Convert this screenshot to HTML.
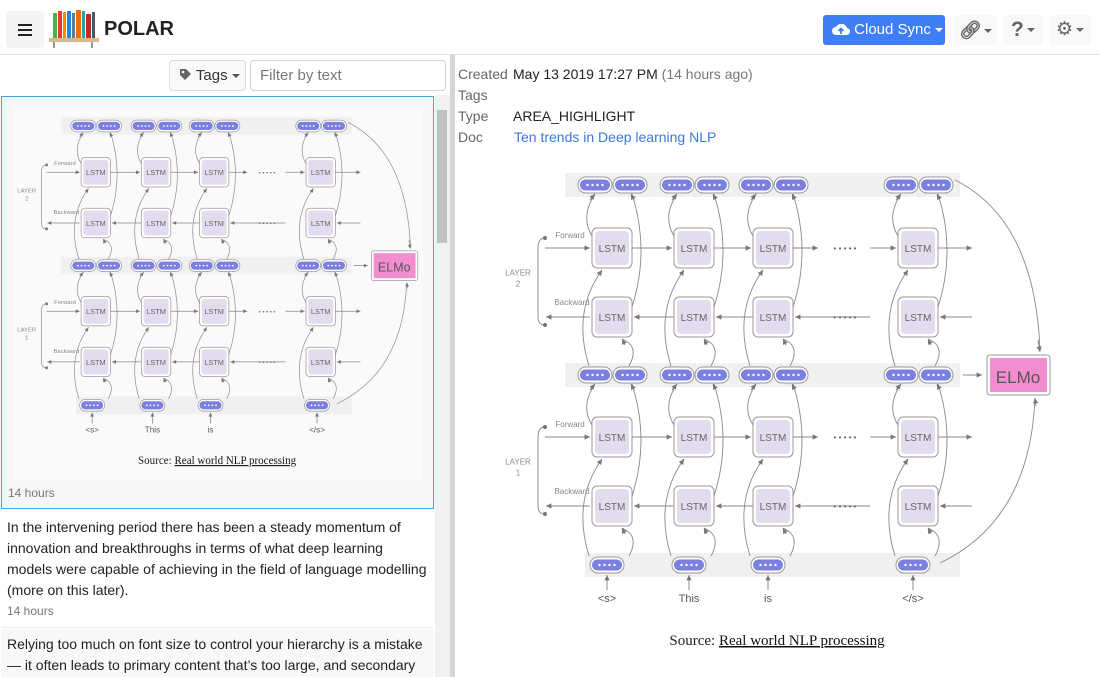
<!DOCTYPE html>
<html><head><meta charset="utf-8">
<style>
*{box-sizing:border-box;margin:0;padding:0}
body{width:1100px;height:677px;overflow:hidden;background:#fff;font-family:"Liberation Sans",sans-serif;color:#212529;position:relative}
.abs{position:absolute}
.hbtn{position:absolute;background:#f3f4f6;border-radius:4px}
.caret{display:inline-block;width:0;height:0;border-left:4px solid transparent;border-right:4px solid transparent;border-top:4px solid currentColor;vertical-align:middle}
.meta{font-size:14px;position:absolute}
</style></head><body>
<div class="abs" style="left:0;top:0;width:1100px;height:55px;border-bottom:1px solid #dee2e6">
  <div class="hbtn" style="left:6px;top:11px;width:38px;height:37px">
    <div class="abs" style="left:12px;top:13px;width:14px;height:2px;background:#222;box-shadow:0 5px 0 #222,0 10px 0 #222"></div>
  </div>
  <svg class="abs" style="left:48px;top:8px" width="52" height="42">
    <rect x="5" y="5" width="4" height="25" fill="#4caf50"/><rect x="10" y="3" width="4" height="27" fill="#e53935"/><rect x="15" y="4" width="3" height="26" fill="#fb8c00"/><rect x="19" y="3" width="4" height="27" fill="#1e88e5"/><rect x="24" y="5" width="3" height="25" fill="#607d8b"/><rect x="28" y="2" width="5" height="28" fill="#ef6c00"/><rect x="34" y="3" width="3" height="27" fill="#26a69a"/><rect x="38" y="6" width="5" height="24" fill="#c62828"/><rect x="44" y="4" width="3" height="26" fill="#455a64"/>
    <rect x="1" y="30" width="50" height="4" fill="#d7b98e"/><rect x="5" y="34" width="2" height="6" fill="#999"/><rect x="43" y="34" width="2" height="6" fill="#999"/>
  </svg>
  <div class="abs" style="left:104px;top:18px;font-size:20px;font-weight:bold;color:#222">POLAR</div>
  <div class="abs" style="left:823px;top:15px;width:122px;height:30px;background:#3e7ef6;border-radius:3px;color:#fff;font-size:15px;line-height:30px;padding-left:9px">
    <svg width="18" height="14" style="vertical-align:-2px"><path d="M4 13 A4 4 0 0 1 4 5 A6 6 0 0 1 15 6 A3.5 3.5 0 0 1 14 13 Z" fill="#fff"/><path d="M9 12 V7 M6.5 9 L9 6.5 L11.5 9" stroke="#3e7ef6" stroke-width="1.8" fill="none"/></svg> Cloud Sync <span class="caret"></span></div>
  <div class="hbtn" style="left:953px;top:15px;width:44px;height:30px;color:#666;font-size:18px;line-height:30px;padding-left:6px;background:#f8f9fa"><span style="font-weight:bold">&#x1F517;&#xFE0E;</span><span class="caret" style="margin-left:2px"></span></div>
  <div class="hbtn" style="left:1003px;top:15px;width:40px;height:30px;color:#666;font-size:21px;font-weight:bold;line-height:30px;padding-left:8px;background:#f8f9fa">?<span class="caret" style="margin-left:3px"></span></div>
  <div class="hbtn" style="left:1049px;top:15px;width:42px;height:30px;color:#666;font-size:19px;line-height:30px;padding-left:7px;background:#f8f9fa">&#x2699;<span class="caret" style="margin-left:3px"></span></div>
</div>

<div class="abs" style="left:169px;top:60px;width:77px;height:31px;border:1px solid #dcdcdc;border-radius:4px;background:#f8f9fa;font-size:15px;line-height:29px;padding-left:9px;color:#333">
  <svg width="13" height="13" style="vertical-align:-1px"><path d="M1 1 H7 L12 6 L6 12 L1 7 Z" fill="#666"/><circle cx="4" cy="4" r="1.3" fill="#f8f9fa"/></svg> Tags <span class="caret" style="color:#555"></span></div>
<div class="abs" style="left:250px;top:60px;width:196px;height:31px;border:1px solid #ced4da;border-radius:4px;font-size:15px;line-height:29px;padding-left:9px;color:#777">Filter by text</div>

<div class="abs" style="left:0;top:95px;width:450px;height:582px;overflow:hidden">
  <div class="abs" style="left:1px;top:1px;width:433px;height:413px;border:1px solid #4aa3df;background:#f6f6f7">
    <div class="abs" style="left:11px;top:10px;width:410px;height:373px;background:#fafafa"></div>
    <div class="abs" style="left:6px;top:389px;font-size:12px;color:#777">14 hours</div>
  </div>
  <div class="abs" style="left:1px;top:415px;width:433px;height:118px;background:#fff;border-bottom:1px solid #eee">
    <div class="abs" style="left:6px;top:7px;width:423px;font-size:14px;line-height:21px;color:#222"><span>In the intervening period there has been a steady momentum of innovation and breakthroughs in terms of what deep learning</span><br><span style="white-space:nowrap">models were capable of achieving in the field of language modelling</span><br>(more on this later).</div>
    <div class="abs" style="left:6px;top:94px;font-size:12px;color:#777">14 hours</div>
  </div>
  <div class="abs" style="left:1px;top:534px;width:433px;height:60px;background:#f8f8f9">
    <div class="abs" style="left:6px;top:5px;width:428px;font-size:14px;line-height:21px;color:#222">Relying too much on font size to control your hierarchy is a mistake — it often leads to primary content that’s too large, and secondary</div>
  </div>
  <div class="abs" style="left:435px;top:0;width:15px;height:582px;background:#f1f1f1">
    <div class="abs" style="left:2px;top:15px;width:10px;height:133px;background:#c1c1c1"></div>
  </div>
</div>
<div class="abs" style="left:450px;top:55px;width:5px;height:622px;background:#d6d6d6"></div>

<div class="meta" style="left:458px;top:66px;color:#666">Created</div>
<div class="meta" style="left:513px;top:66px;color:#222">May 13 2019 17:27 PM <span style="color:#777">(14 hours ago)</span></div>
<div class="meta" style="left:458px;top:87px;color:#666">Tags</div>
<div class="meta" style="left:458px;top:108px;color:#666">Type</div>
<div class="meta" style="left:513px;top:108px;color:#222">AREA_HIGHLIGHT</div>
<div class="meta" style="left:458px;top:129px;color:#666">Doc</div>
<div class="meta" style="left:514px;top:129px;color:#3a78d8">Ten trends in Deep learning NLP</div>

<svg id="svg" class="abs" style="left:0;top:0" width="1100" height="677"></svg>
<script>
const cols=[612,694,773,918];
const words=["<s>","This","is","</s>"];
const NS="http://www.w3.org/2000/svg";
const svg=document.getElementById('svg');
function el(p,t,a){const e=document.createElementNS(NS,t);for(const k in a)e.setAttribute(k,a[k]);p.appendChild(e);return e;}
function txt(p,x,y,s,size,fill,fam,anchor){const t=el(p,'text',{x:x,y:y,'font-size':size,fill:fill,'font-family':fam||'Liberation Sans, sans-serif','text-anchor':anchor||'middle'});t.textContent=s;return t;}
function pill(g,x,y){el(g,'rect',{x:x-17,y:y-8,width:34,height:16,rx:8,fill:'#fff',stroke:'#999','stroke-width':1});el(g,'rect',{x:x-15,y:y-5.5,width:30,height:11,rx:5.5,fill:'#7b7fe0'});for(let i=0;i<4;i++)el(g,'circle',{cx:x-7.5+i*5,cy:y,r:1.2,fill:'#fff'});}
function lstm(g,x,y){el(g,'rect',{x:x-20,y:y-20,width:40,height:40,rx:5,fill:'#fff',stroke:'#999'});el(g,'rect',{x:x-17,y:y-17,width:34,height:34,rx:4,fill:'#e3dcef'});txt(g,x,y+4,'LSTM',10,'#666');}
function arrow(g,x1,y1,x2,y2){el(g,'line',{x1:x1,y1:y1,x2:x2,y2:y2,stroke:'#888','stroke-width':1});const a=Math.atan2(y2-y1,x2-x1),s=6;el(g,'path',{d:`M${x2} ${y2} L${x2-s*Math.cos(a-0.45)} ${y2-s*Math.sin(a-0.45)} L${x2-s*Math.cos(a+0.45)} ${y2-s*Math.sin(a+0.45)} Z`,fill:'#777'});}
function curve(g,d){el(g,'path',{d:d,fill:'none',stroke:'#888','stroke-width':0.9});}
function diagram(g){
  el(g,'rect',{x:565,y:173,width:395,height:24,fill:'#f0f0f2'});
  el(g,'rect',{x:565,y:363,width:395,height:24,fill:'#f0f0f2'});
  el(g,'rect',{x:585,y:553,width:375,height:24,fill:'#f0f0f2'});
  const layers=[[248,317,185,375,'2'],[437,506,375,565,'1']];
  layers.forEach(L=>{
    const [fy,by,top,bot,n]=L;
    txt(g,518,(fy+by)/2-7,'LAYER',8,'#888');txt(g,518,(fy+by)/2+4,n,8,'#888');
    txt(g,570,fy-10,'Forward',8,'#888');txt(g,572,by-12,'Backward',8,'#888');
    curve(g,`M545 ${fy-10} Q538 ${fy-10} 538 ${fy} L538 ${by} Q538 ${by+8} 545 ${by+8}`);
    el(g,'circle',{cx:545,cy:fy-10,r:2,fill:'#777'});el(g,'circle',{cx:545,cy:by+8,r:2,fill:'#777'});
    arrow(g,545,fy,590,fy);arrow(g,590,by,546,by);
    cols.forEach((c,i)=>{
      lstm(g,c,fy);lstm(g,c,by);
      const nx=i<3?cols[i+1]:972;
      if(i==2){arrow(g,c+20,fy,c+45,fy);txt(g,845,fy+3,'• • • • •',8,'#666');arrow(g,870,fy,896,fy);arrow(g,870,by,c+22,by);}
      else if(i<3){arrow(g,c+20,fy,nx-22,fy);arrow(g,nx-20,by,c+22,by);}
      else {arrow(g,c+20,fy,972,fy);arrow(g,972,by,c+22,by);}
      if(i==2){txt(g,845,by+3,'• • • • •',8,'#666');}
      curve(g,`M${c-20} ${fy-12} Q${c-32} ${(fy+top)/2} ${c-17} ${top+9}`);
      arrow(g,c-22,top+15,c-17,top+9);
      curve(g,`M${c+20} ${by-10} Q${c+38} ${(by+top)/2} ${c+20} ${top+9}`);
      arrow(g,c+22,top+15,c+19,top+9);
      curve(g,`M${c-23} ${bot-9} Q${c-40} ${(bot+fy)/2} ${c-10} ${fy+22}`);
      arrow(g,c-14,fy+28,c-10,fy+22);
      curve(g,`M${c+17} ${bot-9} Q${c+28} ${(bot+by)/2} ${c+10} ${by+22}`);
      arrow(g,c+13,by+28,c+10,by+22);
    });
  });
  cols.forEach(c=>{pill(g,c-17,185);pill(g,c+18,185);pill(g,c-17,375);pill(g,c+18,375);});
  cols.forEach((c,i)=>{pill(g,c-5,565);arrow(g,c-5,590,c-5,575);txt(g,c-5,602,words[i],11,'#555');});
  arrow(g,963,375,982,375);
  el(g,'rect',{x:987,y:355,width:63,height:40,rx:3,fill:'#fff',stroke:'#999'});
  el(g,'rect',{x:990,y:358,width:57,height:34,fill:'#f28ecf'});
  txt(g,1018,383,'ELMo',17,'#555');
  curve(g,'M955 180 Q1035 220 1040 350');arrow(g,1038,340,1040,352);
  curve(g,'M940 563 Q1030 520 1035 398');arrow(g,1036,406,1035,398);
  const s=txt(g,777,645,'Source:\u00a0',15,'#222','Liberation Serif, serif','middle');
  const l=el(s,'tspan',{'text-decoration':'underline',fill:'#111'});
  l.textContent='Real world NLP processing';
}
const big=el(svg,'g',{});


diagram(big);
const small=el(svg,'g',{transform:'translate(-354,-10) scale(0.735)'});


diagram(small);
</script>
</body></html>
